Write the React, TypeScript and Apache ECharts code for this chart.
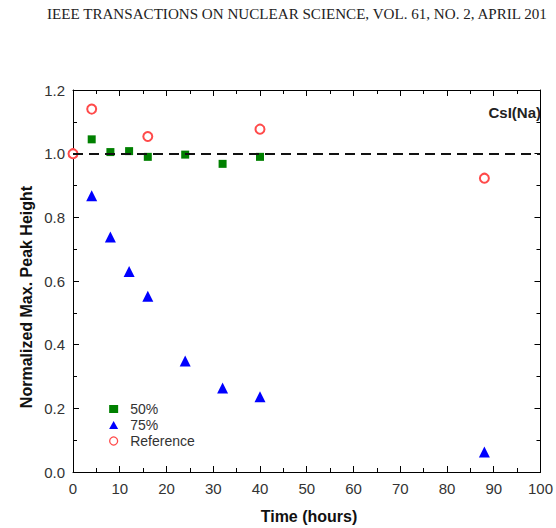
import React, { useEffect, useRef } from "react";
import * as echarts from "echarts";

const header = "IEEE TRANSACTIONS ON NUCLEAR SCIENCE, VOL. 61, NO. 2, APRIL 201";
const sampleLabel = "CsI(Na)";
const xName = "Time (hours)";
const yName = "Normalized Max. Peak Height";

const hours50 = [4, 8, 12, 16, 24, 32, 40];
const values50 = [1.045, 1.005, 1.008, 0.99, 0.997, 0.968, 0.99];

const hours75 = [4, 8, 12, 16, 24, 32, 40, 88];
const values75 = [0.868, 0.738, 0.63, 0.552, 0.349, 0.264, 0.236, 0.063];

const hoursRef = [0, 4, 16, 40, 88];
const valuesRef = [1.0, 1.14, 1.054, 1.077, 0.923];

const baselineValue = 1.0;

const xMin = 0, xMax = 100, xStep = 10;
const yMin = 0, yMax = 1.2, yStep = 0.2;

const font = "'Liberation Sans', Arial, sans-serif";

const zip = (xs: number[], ys: number[]) => xs.map((x, i) => [x, ys[i]]);

export default function App() {
  const ref = useRef<HTMLDivElement>(null);
  useEffect(() => {
    if (!ref.current) return;
    const chart = echarts.init(ref.current, undefined, { renderer: "svg" });
    const axisCommon = {
      axisLine: { show: true, onZero: false, lineStyle: { color: "#000", width: 1 } },
      splitLine: { show: false },
      axisTick: { show: true, inside: true, length: 6, lineStyle: { color: "#000", width: 1 } },
      minorTick: { show: true, splitNumber: 2, length: 4, lineStyle: { color: "#000", width: 1 } },
    };
    chart.setOption({
      animation: false,
      backgroundColor: "#fff",
      grid: { left: 73, right: 10, top: 90, bottom: 56, containLabel: false },
      xAxis: [
        {
          type: "value", min: xMin, max: xMax, interval: xStep, position: "bottom",
          ...axisCommon,
          axisLabel: { color: "#333", fontSize: 15, fontFamily: font, margin: 9, showMaxLabel: true },
        },
        {
          type: "value", min: xMin, max: xMax, interval: xStep, position: "top",
          ...axisCommon,
          axisLabel: { show: false },
        },
      ],
      yAxis: [
        {
          type: "value", min: yMin, max: yMax, interval: yStep, position: "left",
          ...axisCommon,
          axisLabel: { color: "#333", fontSize: 15, fontFamily: font, margin: 8, formatter: (v: number) => v.toFixed(1) },
        },
        {
          type: "value", min: yMin, max: yMax, interval: yStep, position: "right",
          ...axisCommon,
          axisLabel: { show: false },
        },
      ],
      legend: {
        orient: "vertical",
        left: 104,
        top: 397,
        itemWidth: 9,
        itemHeight: 8,
        itemGap: 2,
        textStyle: { color: "#333", fontSize: 14, fontFamily: font, padding: [0, 0, 0, 7] },
        data: [
          { name: "50%", icon: "rect", itemStyle: { color: "#008000", opacity: 1 } },
          { name: "75%", icon: "triangle", itemStyle: { color: "#0000ff", opacity: 1 } },
          { name: "Reference", icon: "circle", itemStyle: { color: "rgba(255,255,255,0)", borderColor: "#ff4a4a", borderWidth: 1.3, opacity: 1 } },
        ],
      },
      series: [
        {
          name: "50%", type: "scatter", symbol: "rect", symbolSize: 8,
          itemStyle: { color: "#008000", opacity: 1 },
          data: zip(hours50, values50),
        },
        {
          name: "75%", type: "scatter", symbol: "triangle", symbolSize: 11,
          itemStyle: { color: "#0000ff", opacity: 1 },
          data: zip(hours75, values75),
        },
        {
          name: "Reference", type: "scatter", symbol: "emptyCircle", symbolSize: 9,
          itemStyle: { color: "#ff4a4a", borderColor: "#ff4a4a", borderWidth: 1.3, opacity: 1 },
          data: zip(hoursRef, valuesRef),
          markLine: {
            silent: true,
            symbol: ["none", "none"],
            label: { show: false },
            lineStyle: { color: "#111", width: 2, type: [10, 6] },
            data: [{ yAxis: baselineValue }],
          },
        },
      ],
      graphic: [
        {
          type: "text", x: 47, y: 14,
          style: { text: header, fill: "#222", fontSize: 15.1, fontFamily: "'Liberation Serif', 'Times New Roman', serif", verticalAlign: "middle" },
        },
        {
          type: "text", x: 541, y: 112,
          style: { text: sampleLabel, fill: "#222", fontSize: 15, fontWeight: "bold", fontFamily: font, align: "right", verticalAlign: "middle" },
        },
        {
          type: "text", x: 26, y: 297, rotation: Math.PI / 2,
          style: { text: yName, fill: "#111", fontSize: 16, fontWeight: "bold", fontFamily: font, align: "center", verticalAlign: "middle" },
        },
        {
          type: "text", x: 309, y: 516,
          style: { text: xName, fill: "#111", fontSize: 16, fontWeight: "bold", fontFamily: font, align: "center", verticalAlign: "middle" },
        },
      ],
    });
    return () => chart.dispose();
  }, []);
  return <div ref={ref} style={{ position: "fixed", left: 0, top: 0, width: 556, height: 528 }} />;
}
